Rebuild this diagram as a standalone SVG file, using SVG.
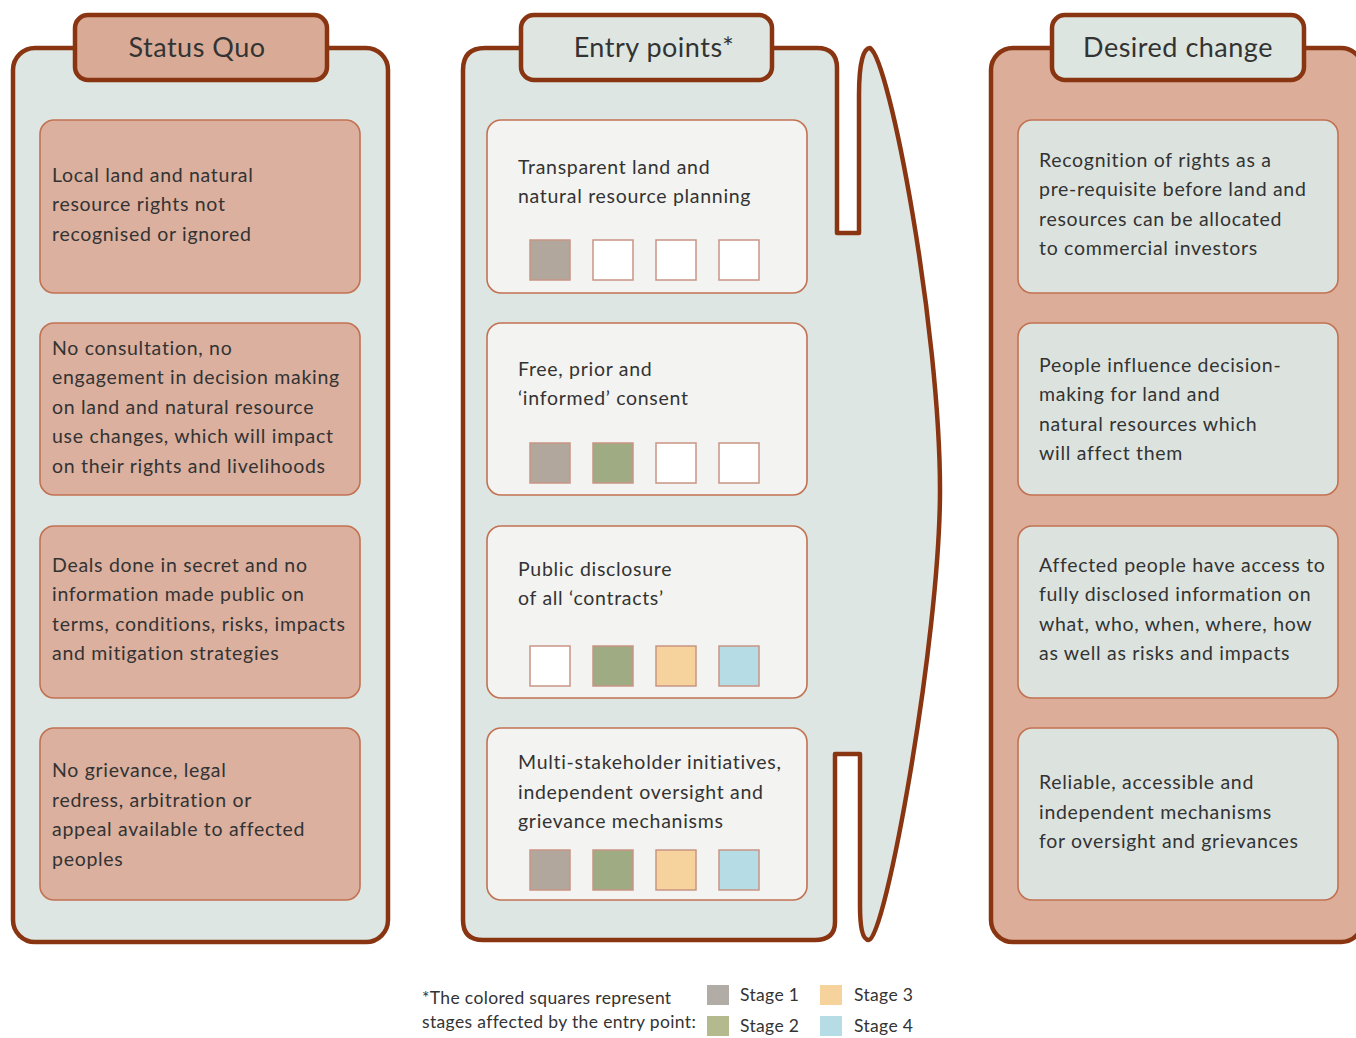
<svg xmlns="http://www.w3.org/2000/svg" width="1356" height="1038" viewBox="0 0 1356 1038">
<style>
.panel{stroke:#8a3512;stroke-width:4.5;stroke-linejoin:round}
.tab{stroke:#8a3512;stroke-width:4.5}
.sq-box{fill:#dbb09f;stroke:#c27252;stroke-width:1.6}
.ep-box{fill:#f3f3f1;stroke:#c27252;stroke-width:1.6}
.dc-box{fill:#dce3df;stroke:#c27252;stroke-width:1.6}
.t{font-family:Lato,"Open Sans","Liberation Sans",sans-serif;font-size:19.5px;fill:#333333;letter-spacing:0.7px}
.title{font-family:Lato,"Open Sans","Liberation Sans",sans-serif;font-size:27px;fill:#333333;text-anchor:middle;letter-spacing:0.5px}
.leg{font-family:Lato,"Open Sans","Liberation Sans",sans-serif;font-size:17.5px;fill:#333333;letter-spacing:0.35px}
.s0{fill:#ffffff;stroke:#c99584;stroke-width:1.5}
.s1{fill:#b1a79d;stroke:#c99584;stroke-width:1.5}
.s2{fill:#9fab83;stroke:#c99584;stroke-width:1.5}
.s3{fill:#f6d29d;stroke:#c99584;stroke-width:1.5}
.s4{fill:#b6dce5;stroke:#c99584;stroke-width:1.5}
</style>
<rect width="1356" height="1038" fill="#ffffff"/>

<g id="status-quo">
<rect class="panel" x="13" y="48" width="375" height="894" rx="22" fill="#dde6e2"/>
<rect class="tab" x="75" y="15" width="252" height="65" rx="13" fill="#d9ab97"/>
<text class="title" x="197" y="57">Status Quo</text>
</g>
<g id="sq1"><rect class="sq-box" x="40" y="120" width="320" height="173" rx="14"/>
<text class="t" x="52"><tspan y="182">Local land and natural</tspan><tspan x="52" y="211">resource rights not</tspan><tspan x="52" y="241">recognised or ignored</tspan></text></g>
<g id="sq2"><rect class="sq-box" x="40" y="323" width="320" height="172" rx="14"/>
<text class="t" x="52"><tspan y="355">No consultation, no</tspan><tspan x="52" y="384">engagement in decision making</tspan><tspan x="52" y="414">on land and natural resource</tspan><tspan x="52" y="443">use changes, which will impact</tspan><tspan x="52" y="473">on their rights and livelihoods</tspan></text></g>
<g id="sq3"><rect class="sq-box" x="40" y="526" width="320" height="172" rx="14"/>
<text class="t" x="52"><tspan y="572">Deals done in secret and no</tspan><tspan x="52" y="601">information made public on</tspan><tspan x="52" y="631">terms, conditions, risks, impacts</tspan><tspan x="52" y="660">and mitigation strategies</tspan></text></g>
<g id="sq4"><rect class="sq-box" x="40" y="728" width="320" height="172" rx="14"/>
<text class="t" x="52"><tspan y="777">No grievance, legal</tspan><tspan x="52" y="807">redress, arbitration or</tspan><tspan x="52" y="836">appeal available to affected</tspan><tspan x="52" y="866">peoples</tspan></text></g>

<g id="entry-points">
<path class="panel" fill="#dde6e2" d="M463,70 Q463,48 485,48 L817,48 Q837,48 837,68 L837,233 L859,233 L859,95 C859,60 864,48 870,48 C890,60 940,330 940,490 C940,640 885,940 869,940 C862,940 860,925 860,905 L860,754 L835,754 L835,922 Q835,940 815,940 L483,940 Q463,940 463,920 Z"/>
<rect class="tab" x="521" y="15" width="251" height="65" rx="13" fill="#dfe6e2"/>
<text class="title" x="654" y="57">Entry points*</text>
</g>
<g id="ep1"><rect class="ep-box" x="487" y="120" width="320" height="173" rx="14"/>
<text class="t" x="518"><tspan y="174">Transparent land and</tspan><tspan x="518" y="203">natural resource planning</tspan></text>
<rect class="s1" x="530" y="240" width="40" height="40"/><rect class="s0" x="593" y="240" width="40" height="40"/><rect class="s0" x="656" y="240" width="40" height="40"/><rect class="s0" x="719" y="240" width="40" height="40"/></g>
<g id="ep2"><rect class="ep-box" x="487" y="323" width="320" height="172" rx="14"/>
<text class="t" x="518"><tspan y="376">Free, prior and</tspan><tspan x="518" y="405">‘informed’ consent</tspan></text>
<rect class="s1" x="530" y="443" width="40" height="40"/><rect class="s2" x="593" y="443" width="40" height="40"/><rect class="s0" x="656" y="443" width="40" height="40"/><rect class="s0" x="719" y="443" width="40" height="40"/></g>
<g id="ep3"><rect class="ep-box" x="487" y="526" width="320" height="172" rx="14"/>
<text class="t" x="518"><tspan y="576">Public disclosure</tspan><tspan x="518" y="605">of all ‘contracts’</tspan></text>
<rect class="s0" x="530" y="646" width="40" height="40"/><rect class="s2" x="593" y="646" width="40" height="40"/><rect class="s3" x="656" y="646" width="40" height="40"/><rect class="s4" x="719" y="646" width="40" height="40"/></g>
<g id="ep4"><rect class="ep-box" x="487" y="728" width="320" height="172" rx="14"/>
<text class="t" x="518"><tspan y="769">Multi-stakeholder initiatives,</tspan><tspan x="518" y="799">independent oversight and</tspan><tspan x="518" y="828">grievance mechanisms</tspan></text>
<rect class="s1" x="530" y="850" width="40" height="40"/><rect class="s2" x="593" y="850" width="40" height="40"/><rect class="s3" x="656" y="850" width="40" height="40"/><rect class="s4" x="719" y="850" width="40" height="40"/></g>

<g id="desired-change">
<rect class="panel" x="991" y="48" width="372" height="894" rx="22" fill="#dcad99"/>
<rect class="tab" x="1052" y="15" width="252" height="65" rx="13" fill="#dde5e1"/>
<text class="title" x="1178" y="57">Desired change</text>
</g>
<g id="dc1"><rect class="dc-box" x="1018" y="120" width="320" height="173" rx="14"/>
<text class="t" x="1039"><tspan y="167">Recognition of rights as a</tspan><tspan x="1039" y="196">pre-requisite before land and</tspan><tspan x="1039" y="226">resources can be allocated</tspan><tspan x="1039" y="255">to commercial investors</tspan></text></g>
<g id="dc2"><rect class="dc-box" x="1018" y="323" width="320" height="172" rx="14"/>
<text class="t" x="1039"><tspan y="372">People influence decision-</tspan><tspan x="1039" y="401">making for land and</tspan><tspan x="1039" y="431">natural resources which</tspan><tspan x="1039" y="460">will affect them</tspan></text></g>
<g id="dc3"><rect class="dc-box" x="1018" y="526" width="320" height="172" rx="14"/>
<text class="t" x="1039"><tspan y="572">Affected people have access to</tspan><tspan x="1039" y="601">fully disclosed information on</tspan><tspan x="1039" y="631">what, who, when, where, how</tspan><tspan x="1039" y="660">as well as risks and impacts</tspan></text></g>
<g id="dc4"><rect class="dc-box" x="1018" y="728" width="320" height="172" rx="14"/>
<text class="t" x="1039"><tspan y="789">Reliable, accessible and</tspan><tspan x="1039" y="819">independent mechanisms</tspan><tspan x="1039" y="848">for oversight and grievances</tspan></text></g>

<g id="connectors"></g>

<g id="legend">
<text class="leg" x="422"><tspan y="1004">*The colored squares represent</tspan><tspan x="422" y="1028">stages affected by the entry point:</tspan></text>
<rect x="707" y="985" width="22" height="20" fill="#b1aca5"/>
<rect x="707" y="1016" width="22" height="20" fill="#b4b98e"/>
<rect x="820" y="985" width="22" height="20" fill="#f6d29d"/>
<rect x="820" y="1016" width="22" height="20" fill="#b6dce5"/>
<text class="leg" x="740" y="1001">Stage 1</text>
<text class="leg" x="740" y="1032">Stage 2</text>
<text class="leg" x="854" y="1001">Stage 3</text>
<text class="leg" x="854" y="1032">Stage 4</text>
</g>
</svg>
